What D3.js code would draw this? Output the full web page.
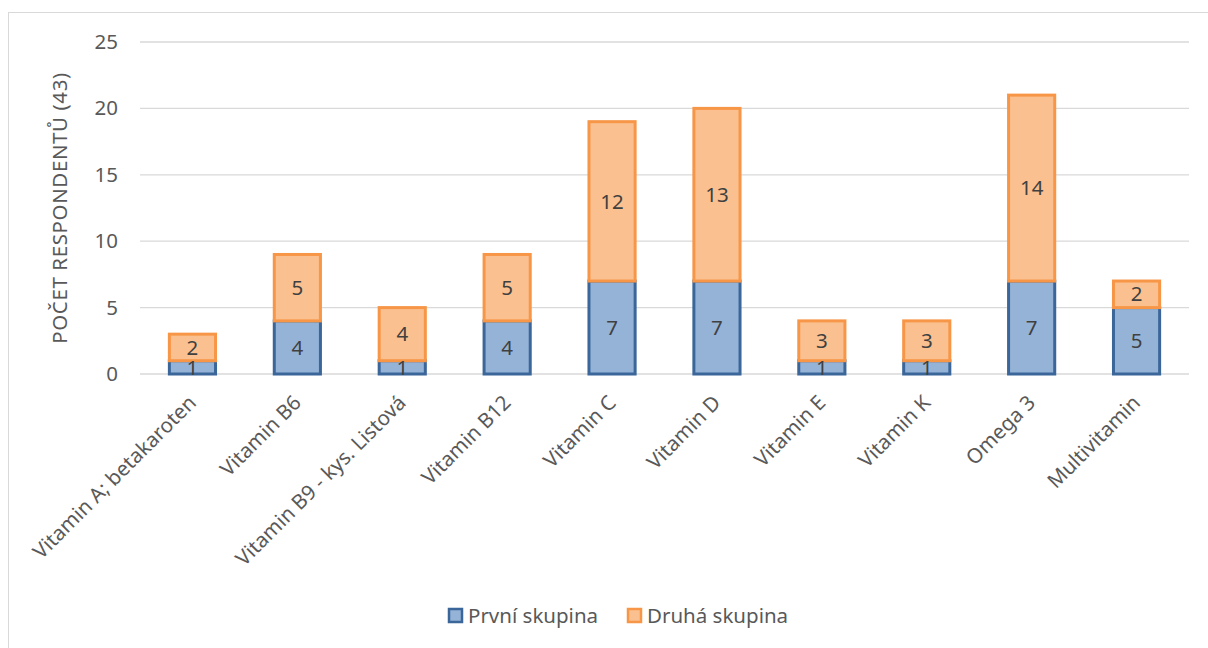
<!DOCTYPE html>
<html>
<head>
<meta charset="utf-8">
<script src="https://cdn.jsdelivr.net/npm/d3@7"></script>
<style>
  html, body { margin: 0; padding: 0; background: #fff; }
  svg { display: block; font-family: "Noto Sans", "Open Sans", sans-serif; }
</style>
</head>
<body>
<svg id="chart" width="1208" height="648"></svg>
<script>
// Vitamin supplements used by respondents, split by group
const categories = [
  "Vitamin A; betakaroten", "Vitamin B6", "Vitamin B9 - kys. Listová", "Vitamin B12",
  "Vitamin C", "Vitamin D", "Vitamin E", "Vitamin K", "Omega 3", "Multivitamin"
];
const seriesNames = ["První skupina", "Druhá skupina"];
const firstGroup  = [1, 4, 1, 4, 7, 7, 1, 1, 7, 5];
const secondGroup = [2, 5, 4, 5, 12, 13, 3, 3, 14, 2];
const yTicks = [0, 5, 10, 15, 20, 25];
const yTitle = "POČET RESPONDENTŮ (43)";

const fills   = ["#95B3D7", "#FAC090"];
const strokes = ["#3A6699", "#F79646"];
const FS = 20.5;

const svg = d3.select("#chart");
const W = 1208, H = 648;
const plot = { left: 140, right: 1189, top: 42, bottom: 374 };

// Outer chart frame
svg.append("rect")
  .attr("x", 8.5).attr("y", 12.5)
  .attr("width", W + 10).attr("height", H + 10)
  .attr("fill", "#fff").attr("stroke", "#D9D9D9").attr("stroke-width", 1);

const x = d3.scaleBand().domain(categories)
  .range([plot.left, plot.right]).paddingInner(0.56).paddingOuter(0.28);
const y = d3.scaleLinear().domain([0, 25]).range([plot.bottom, plot.top]);

// Horizontal gridlines
svg.append("g").selectAll("line").data(yTicks).join("line")
  .attr("x1", plot.left).attr("x2", plot.right)
  .attr("y1", d => y(d)).attr("y2", d => y(d))
  .attr("stroke", "#D9D9D9").attr("stroke-width", 1.3);

// Y axis tick labels
const yAxis = d3.axisLeft(y).tickValues(yTicks).tickSize(0).tickPadding(0);
const yg = svg.append("g").attr("transform", `translate(${plot.left - 22},0)`).call(yAxis);
yg.select(".domain").remove();
yg.selectAll("text").attr("font-size", FS).attr("fill", "#595959")
  .attr("font-family", "Noto Sans, Open Sans, sans-serif");

// Y axis title
svg.append("text")
  .attr("transform", `translate(67,${(plot.top + plot.bottom) / 2}) rotate(-90)`)
  .attr("text-anchor", "middle")
  .attr("font-size", FS).attr("fill", "#595959")
  .attr("letter-spacing", 0.6)
  .text(yTitle);

// Stacked bars
const stackData = categories.map((c, i) => ({ cat: c, a: firstGroup[i], b: secondGroup[i] }));
const stacked = d3.stack().keys(["a", "b"])(stackData);

const bars = svg.append("g");
stacked.forEach((layer, si) => {
  bars.append("g").selectAll("rect").data(layer).join("rect")
    .attr("x", d => x(d.data.cat))
    .attr("width", x.bandwidth())
    .attr("y", d => y(d[1]))
    .attr("height", d => y(d[0]) - y(d[1]))
    .attr("fill", fills[si])
    .attr("stroke", strokes[si])
    .attr("stroke-width", 3);
});

// Value labels centred in each segment
stacked.forEach(layer => {
  bars.append("g").selectAll("text").data(layer).join("text")
    .attr("x", d => x(d.data.cat) + x.bandwidth() / 2)
    .attr("y", d => (y(d[0]) + y(d[1])) / 2)
    .attr("dy", "0.35em")
    .attr("text-anchor", "middle")
    .attr("font-size", FS).attr("fill", "#404040")
    .text(d => d[1] - d[0]);
});

// Category labels, rotated
svg.append("g").selectAll("text").data(categories).join("text")
  .attr("transform", d => `translate(${x(d) + x.bandwidth() / 2 + 5},${plot.bottom + 30}) rotate(-45)`)
  .attr("text-anchor", "end")
  .attr("font-size", FS).attr("fill", "#595959")
  .text(d => d);

// Legend
const legendItems = [
  { name: seriesNames[0], x: 449 },
  { name: seriesNames[1], x: 628 }
];
const lg = svg.append("g");
legendItems.forEach((it, i) => {
  lg.append("rect")
    .attr("x", it.x).attr("y", 609).attr("width", 13).attr("height", 13)
    .attr("fill", fills[i]).attr("stroke", strokes[i]).attr("stroke-width", 2.5);
  lg.append("text")
    .attr("x", it.x + 19).attr("y", 616).attr("dy", "0.35em")
    .attr("font-size", FS).attr("fill", "#595959")
    .text(it.name);
});
</script>
</body>
</html>
